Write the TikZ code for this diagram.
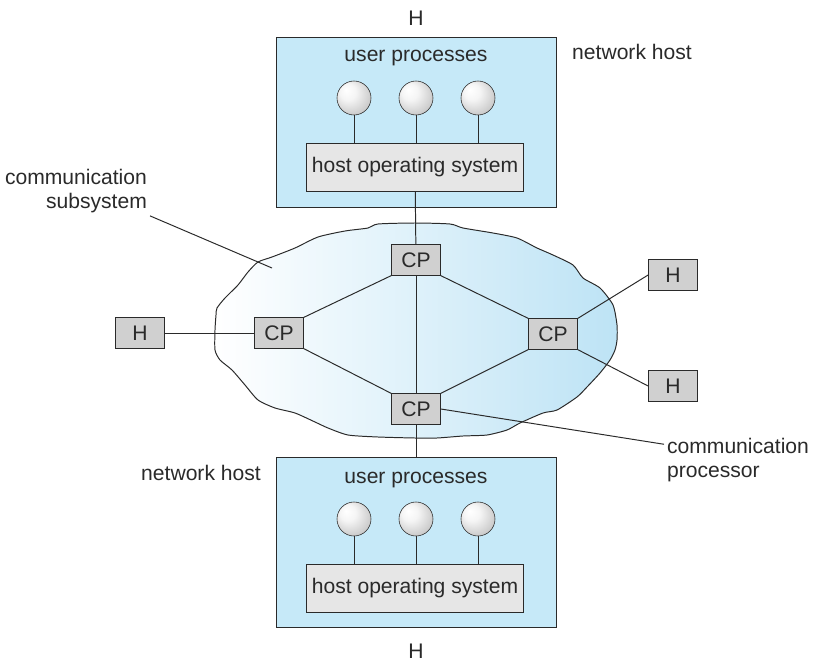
\documentclass[tikz,border=0pt]{standalone}
\usepackage{fontspec}
\setmainfont{Liberation Sans}
\usetikzlibrary{positioning,calc}
\definecolor{hostfill}{HTML}{C6E9F8}
\definecolor{cloudfill}{HTML}{BDE3F5}
\definecolor{cpfill}{HTML}{D0D0D0}
\definecolor{osfill}{HTML}{E6E6E6}
\definecolor{ink}{HTML}{2A2A2A}
\newcommand{\lbfont}{\fontsize{15}{17}\selectfont}
\pgfdeclareradialshading{procball}{\pgfpoint{-12bp}{12bp}}{%
  color(0bp)=(white); color(12bp)=(white!92!gray); color(32bp)=(gray!45);
  color(45bp)=(gray!70); color(50bp)=(gray!70)}
\tikzset{
  hostbox/.style={draw=ink,fill=hostfill,minimum width=7cm,minimum height=4.25cm,inner sep=0pt},
  osbox/.style={draw=ink,fill=osfill,minimum width=5.43cm,minimum height=1.2cm,inner sep=0pt,
    font=\lbfont,text=ink},
  cpbox/.style={draw=ink,fill=cpfill,minimum width=1.23cm,minimum height=0.77cm,inner sep=0pt,
    font=\lbfont,text=ink},
  proc/.style={circle,draw=ink,shading=procball,minimum size=0.85cm,inner sep=0pt},
  lbl/.style={font=\lbfont,text=ink,inner sep=2pt},
  link/.style={draw=ink,line width=0.7pt},
}

\begin{document}
\begin{tikzpicture}[x=0.025cm,y=-0.025cm]
  \useasboundingbox (0,0) rectangle (814,670);
  % communication subsystem cloud
  \draw[ink,line width=0.7pt,left color=white,right color=cloudfill]
    plot[smooth cycle,tension=0.4] coordinates {
      (415,223) (450,224) (463,228) (493,233) (517,238) (537,248) (553,255)
      (573,265) (583,278) (600,288) (613,305) (617,325) (617,340) (615,350)
      (610,360) (600,373) (587,387) (577,397) (557,410) (543,413) (520,423)
      (507,430) (487,435) (463,436) (437,438) (415,438) (378,437) (348,435)
      (328,428) (315,422) (295,413) (275,408) (258,400) (245,385) (232,370)
      (220,360) (215,350) (215,330) (216,315) (217,308) (225,298) (238,285)
      (248,272) (258,262) (272,257) (295,248) (318,237) (345,231) (368,228)
      (378,224)};

  % upper host
  \node[hostbox] (hostT) at (416,122) {};
  \node[lbl] (upT) at (416,58) {user processes};
  \node[osbox] (osT) at (415,167) {host operating system};
  \foreach \i/\x in {1/354,2/416,3/478}{
    \node[proc] (pT\i) at (\x,98) {};
    \draw[link] (pT\i) -- (pT\i |- osT.north);
  }
  \node[lbl] (hT) at (416,18) {H};
  \node[lbl] (nhT) at (632,52) {network host};

  % lower host
  \node[hostbox] (hostB) at (416,542) {};
  \node[lbl] (upB) at (416,480) {user processes};
  \node[osbox] (osB) at (415,588) {host operating system};
  \foreach \i/\x in {1/354,2/416,3/478}{
    \node[proc] (pB\i) at (\x,519) {};
    \draw[link] (pB\i) -- (pB\i |- osB.north);
  }
  \node[lbl] (hB) at (416,651) {H};
  \node[lbl] (nhB) at (201,473) {network host};

  % communication processors and hosts
  \node[cpbox] (cpN) at (416,260) {CP};
  \node[cpbox] (cpW) at (279,333) {CP};
  \node[cpbox] (cpE) at (553,334) {CP};
  \node[cpbox] (cpS) at (416,409) {CP};
  \node[cpbox] (hW) at (140,333) {H};
  \node[cpbox] (hNE) at (673,275) {H};
  \node[cpbox] (hSE) at (673,386) {H};

  \draw[link] (osT) -- (cpN);
  \draw[link] (cpN) -- (cpS);
  \draw[link] (cpS) -- (hostB);
  \draw[link] (cpW.north east) -- (cpN.south west);
  \draw[link] (cpN.south east) -- (cpE.north west);
  \draw[link] (cpW.south east) -- (cpS.north west);
  \draw[link] (cpS.north east) -- (cpE.south west);
  \draw[link] (hW) -- (cpW);
  \draw[link] (cpE.north east) -- (hNE.west);
  \draw[link] (cpE.south east) -- (hSE.west);

  % callouts
  \node[lbl,align=right,anchor=east] (subsys) at (150,191) {communication\\subsystem};
  \coordinate (subsysTip) at (272,268);
  \draw[link] (subsys.south east) -- (subsysTip);
  \node[lbl,align=left,anchor=west] (cproc) at (664,460) {communication\\processor};
  \draw[link] (cpS.east) -- (cproc.168);
\end{tikzpicture}
\end{document}
